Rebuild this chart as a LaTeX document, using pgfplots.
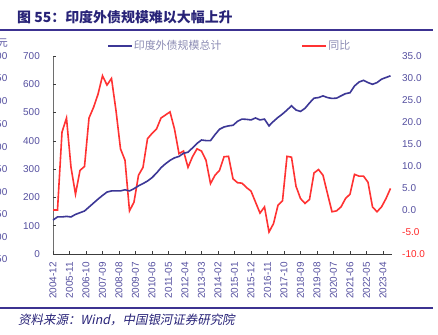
\documentclass[border=0pt]{standalone}
\usepackage{fontspec}
\setmainfont{Liberation Sans}
\newfontfamily\cjk{Noto Sans CJK SC}
\newfontfamily\cjksl[FakeSlant=0.2]{Noto Sans CJK SC}
\usepackage{pgfplots}
\pgfplotsset{compat=1.18}
\definecolor{tickblue}{RGB}{85,80,160}
\definecolor{negred}{RGB}{255,40,40}
\definecolor{blueline}{RGB}{60,55,150}
\definecolor{redline}{RGB}{255,50,50}
\definecolor{titlenavy}{RGB}{40,35,120}
\definecolor{rulenavy}{RGB}{60,50,145}
\definecolor{legendgray}{RGB}{140,140,180}
\definecolor{axisdark}{RGB}{60,60,60}
\definecolor{axisgray}{RGB}{110,110,110}
\begin{document}
\begin{tikzpicture}
\useasboundingbox (0bp,0bp) rectangle (438bp,335bp);
\fill[white] (0bp,0bp) rectangle (438bp,335bp);
\node[anchor=west, inner sep=0pt, text=titlenavy, font=\cjk\bfseries\fontsize{14}{16}\selectfont] at (17bp,318bp) {图 55：印度外债规模难以大幅上升};
\draw[rulenavy, line width=2.3bp] (0bp,305bp) -- (433bp,305bp);
\draw[rulenavy, line width=2.3bp] (0bp,27bp) -- (433bp,27bp);
\node[anchor=west, inner sep=0pt, text=titlenavy, font=\cjksl\fontsize{12.5}{14}\selectfont] at (18bp,15bp) {资料来源：Wind，中国银河证券研究院};
\node[anchor=east, inner sep=0pt, text=tickblue, font=\cjk\fontsize{10}{12}\selectfont] at (8bp,292bp) {亿美元};
\foreach \yy/\lab in {279/900,257/850,234/800,211/750,188/700,166/650,143/600,121/550,98/500,76/450}
  \node[anchor=east, inner sep=0pt, text=tickblue, font=\fontsize{10}{12}\selectfont] at (7.5bp,\yy bp) {\lab};
% left value axis: 0..700 spans 81bp..279bp
\draw[axisgray, line width=0.8bp] (53bp,81bp) -- (53bp,279bp);
\foreach \yy/\lab in {81/0,109.29/100,137.57/200,165.86/300,194.14/400,222.43/500,250.71/600,279/700} {
  \draw[axisdark, line width=0.6bp] (53bp,\yy bp) -- (56bp,\yy bp);
  \node[anchor=east, inner sep=0pt, text=tickblue, font=\fontsize{10}{12}\selectfont] at (40bp,\yy bp) {\lab};
}

% right axis (year-on-year, %)
\begin{axis}[
  at={(53bp,81bp)}, anchor=south west, scale only axis,
  width=339bp, height=198bp,
  xmin=0, xmax=226, ymin=-10, ymax=35,
  axis y line*=right, axis x line=none,
  y axis line style={draw=none},
  ytick={-10,-5,0,5,10,15,20,25,30,35},
  yticklabels={\textcolor{negred}{-10.0},\textcolor{negred}{-5.0},0.0,5.0,10.0,15.0,20.0,25.0,30.0,35.0},
  major tick length=0pt,
  yticklabel style={anchor=west, inner sep=0pt, font=\fontsize{10}{12}\selectfont, text=tickblue},
  yticklabel shift=10bp,
  clip=false,
]
\addplot[redline, line width=1.6bp, mark=none] coordinates {
(0,0) (3,0) (6,17.7) (9,20.9) (12,9.7) (15,3.6) (18,9.0) (21,9.9) (24,20.9) (27,23.3)
(30,26.3) (33,30.5) (36,28.4) (39,29.9) (42,22.6) (45,13.9) (48,11.3) (51,-0.2) (54,1.8) (57,7.9)
(60,9.7) (63,16.2) (66,17.4) (69,18.4) (72,20.9) (75,21.6) (78,22.3) (81,18.4) (84,12.8) (87,13.4)
(90,9.7) (93,12.1) (96,13.9) (99,13.4) (102,11.3) (105,6.0) (108,7.9) (111,9.0) (114,12.1) (117,12.2)
(120,7.1) (123,6.2) (126,6.1) (129,5.1) (132,4.3) (135,1.8) (138,-0.7) (141,0.7) (144,-5.0) (147,-3.1)
(150,1.1) (153,2.1) (156,12.2) (159,12.0) (162,5.4) (165,2.6) (168,1.5) (171,2.4) (174,8.4) (177,9.2)
(180,7.9) (183,3.7) (186,-0.4) (189,-0.2) (192,0.7) (195,2.6) (198,3.6) (201,8.1) (204,7.7) (207,7.7)
(210,6.3) (213,0.7) (216,-0.4) (219,0.7) (222,2.6) (225,4.9)
};
\end{axis}

% left axis (external debt)
\begin{axis}[
  at={(53bp,81bp)}, anchor=south west, scale only axis,
  width=339bp, height=198bp,
  xmin=0, xmax=226, ymin=0, ymax=700,
  axis x line*=bottom, axis y line*=left,
  axis line style={-},
  x axis line style={draw=axisdark, line width=0.8bp},
  y axis line style={draw=none},
  xtick={0,11,...,220},
  xticklabels={2004-12,2005-11,2006-10,2007-09,2008-08,2009-07,2010-06,2011-05,2012-04,2013-03,2014-02,2015-01,2015-12,2016-11,2017-10,2018-09,2019-08,2020-07,2021-06,2022-05,2023-04},
  ytick=\empty,
  tick align=inside, major tick length=3bp,
  tick style={draw=axisdark, line width=0.6bp},
  xticklabel style={rotate=90, anchor=east, inner sep=0pt, font=\fontsize{10}{12}\selectfont, text=tickblue},
  xticklabel shift=8bp,
  clip=false,
  legend columns=2,
  legend style={at={(0.1593,1.0505)}, anchor=west, draw=none, fill=none, inner sep=0pt,
    font=\cjk\fontsize{11}{13}\selectfont,
    nodes={inner sep=1bp, text=legendgray},
    /tikz/every even column/.append style={column sep=79bp}},
  legend image code/.code={\draw[#1] (0bp,0bp) -- (24bp,0bp);},
]
\addplot[blueline, line width=1.6bp, mark=none] coordinates {
(0,120) (3,131) (6,131) (9,133) (12,131) (15,140) (18,146) (21,152) (24,166) (27,180)
(30,194) (33,207) (36,219) (39,223) (42,223) (45,223) (48,227) (51,223) (54,231) (57,241)
(60,249) (63,258) (66,270) (69,286) (72,305) (75,319) (78,331) (81,340) (84,345) (87,356)
(90,360) (93,375) (96,391) (99,403) (102,401) (105,401) (108,422) (111,441) (114,449) (117,453)
(120,455) (123,469) (126,477) (129,476) (132,474) (135,481) (138,474) (141,477) (144,453) (147,469)
(150,483) (153,495) (156,509) (159,524) (162,509) (165,504) (168,515) (171,534) (174,551) (177,553)
(180,559) (183,553) (186,550) (189,551) (192,559) (195,567) (198,570) (201,594) (204,608) (207,614)
(210,606) (213,600) (216,606) (219,618) (222,624) (225,630)
};
\addlegendentry{印度外债规模总计}
\addlegendimage{redline, line width=2bp}
\addlegendentry{同比}
\end{axis}
\end{tikzpicture}
\end{document}
